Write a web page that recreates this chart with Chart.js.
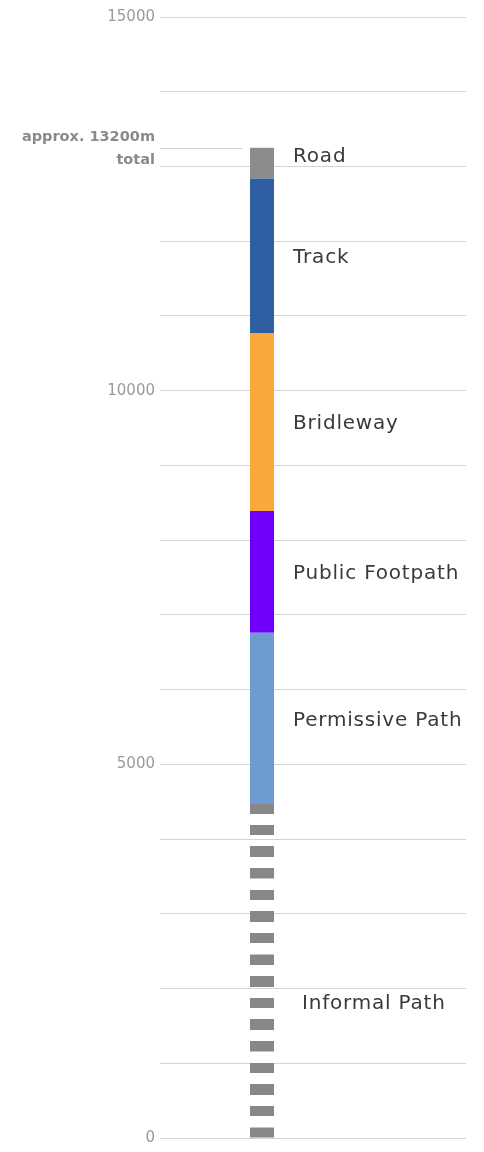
<!DOCTYPE html>
<html><head><meta charset="utf-8">
<script src="https://cdn.jsdelivr.net/npm/chart.js@4.4.0/dist/chart.umd.min.js"></script>
<style>html,body{margin:0;padding:0;background:#fff;} #wrap{width:484px;height:1152px;position:relative;}</style>
</head><body><div id="wrap"><canvas id="c"></canvas></div>
<script>
// ---- data ----
const categories = ['Informal Path', 'Permissive Path', 'Public Footpath', 'Bridleway', 'Track', 'Road'];
const lengths = [4470, 2290, 1630, 2380, 2070, 410];   // metres, bottom to top
const yTicksShown = [0, 5000, 10000, 15000];
const totalText = ['approx. 13200m', 'total'];
const barX = 1;

// ---- styles ----
const palette = {
  'Informal Path': '#878787',
  'Permissive Path': '#6e9bd0',
  'Public Footpath': '#7000fb',
  'Bridleway': '#f9a93c',
  'Track': '#2e5fa3',
  'Road': '#8c8c8c'
};
const DASH_PERIOD = 290, DASH_LEN = 140;
const labelShift = { 'Road': {dx: 0, dy: -8}, 'Informal Path': {dx: 9, dy: 31} };

function informalFill(ctx) {
  const chart = ctx.chart, y = chart.scales && chart.scales.y;
  const col = palette['Informal Path'];
  if (!y) return col;
  const base = y.getPixelForValue(0);
  const period = base - y.getPixelForValue(DASH_PERIOD);
  const dash = base - y.getPixelForValue(DASH_LEN);
  if (!isFinite(base) || !isFinite(period) || period <= 1) return col;
  const k = 8;
  const H = Math.max(2, Math.round(period * k));
  const D = Math.round(dash * k);
  const c = document.createElement('canvas');
  c.width = 4; c.height = H;
  const g = c.getContext('2d');
  g.fillStyle = col;
  g.fillRect(0, H - D, 4, D);
  const p = chart.ctx.createPattern(c, 'repeat');
  p.setTransform(new DOMMatrix([1, 0, 0, 1 / k, 0, base]));
  return p;
}

const annotate = {
  id: 'annotate',
  afterDatasetsDraw(chart) {
    const {ctx, chartArea, scales: {y}} = chart;
    ctx.save();
    // segment labels
    ctx.font = '20px "DejaVu Sans"';
    ctx.fillStyle = '#3a3a3a';
    ctx.textAlign = 'left';
    ctx.textBaseline = 'alphabetic';
    if ('letterSpacing' in ctx) ctx.letterSpacing = '0.8px';
    let barLeft = 0;
    chart.data.datasets.forEach((ds, i) => {
      const el = chart.getDatasetMeta(i).data[0];
      barLeft = el.x - el.width / 2;
      const s = labelShift[ds.label] || {dx: 0, dy: 0};
      const cy = (el.y + el.base) / 2 + s.dy;
      ctx.fillText(ds.label, el.x + el.width / 2 + 19 + s.dx, cy + 7.3);
    });
    // total marker
    const total = lengths.reduce((a, b) => a + b, 0);
    const ty = Math.round(y.getPixelForValue(total)) + 0.5;
    ctx.strokeStyle = '#cfcfcf';
    ctx.lineWidth = 1;
    ctx.beginPath();
    ctx.moveTo(chartArea.left, ty);
    ctx.lineTo(barLeft - 8, ty);
    ctx.stroke();
    if ('letterSpacing' in ctx) ctx.letterSpacing = '0px';
    ctx.font = 'bold 14.5px "DejaVu Sans"';
    ctx.fillStyle = '#8a8a8a';
    ctx.textAlign = 'right';
    ctx.textBaseline = 'middle';
    ctx.fillText(totalText[0], chartArea.left - 5, ty - 11);
    ctx.fillText(totalText[1], chartArea.left - 5, ty + 12);
    ctx.restore();
  }
};

const datasets = categories.map((name, i) => ({
  label: name,
  data: [{x: barX, y: lengths[i]}],
  backgroundColor: name === 'Informal Path' ? informalFill : palette[name],
  borderWidth: 0,
  barThickness: 24,
  inflateAmount: 0
}));

new Chart(document.getElementById('c'), {
  type: 'bar',
  data: { datasets },
  options: {
    responsive: true,
    maintainAspectRatio: false,
    animation: false,
    layout: { padding: { left: 0, right: 18, top: 17, bottom: 13 } },
    plugins: { legend: { display: false }, tooltip: { enabled: false } },
    scales: {
      x: { type: 'linear', min: 0, max: 3, offset: false, stacked: true, display: false, grid: { offset: false } },
      y: {
        stacked: true, min: 0, max: 15000,
        ticks: {
          stepSize: 1000, autoSkip: false, padding: 5,
          color: '#9a9a9a',
          font: { family: '"DejaVu Sans"', size: 15 },
          callback: v => yTicksShown.includes(v) ? String(v) : ''
        },
        grid: { color: '#d4d4d4', lineWidth: 1, drawTicks: false },
        border: { display: false },
        afterFit(s) { s.width = 160; }
      }
    }
  },
  plugins: [annotate]
});
</script>
</body></html>
